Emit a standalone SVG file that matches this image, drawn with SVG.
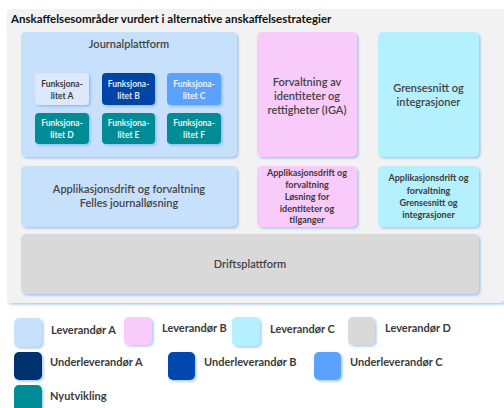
<svg xmlns="http://www.w3.org/2000/svg" width="504" height="408" viewBox="0 0 504 408">
<defs>
<filter id="sh" x="-10%" y="-10%" width="130%" height="130%">
<feDropShadow dx="1.5" dy="1.5" stdDeviation="0.8" flood-color="#5b9cf0" flood-opacity="0.55"/>
</filter>
</defs>
<style>
text{font-family:Lato,"Liberation Sans",sans-serif;fill:#3a3a3a}
.t{font-size:11px;font-weight:600;text-anchor:middle;fill:#444}
.s{font-size:9px;font-weight:bold;text-anchor:middle}
.f{font-size:8.5px;font-weight:bold;text-anchor:middle}
.lg{font-size:11px;font-weight:bold}
.box{filter:url(#sh)}
</style>
<rect width="504" height="408" fill="#ffffff"/>
<g id="panel">
<rect x="7" y="9" width="497" height="294" rx="4" fill="#f2f2f2" filter="url(#sh)"/>
<text x="11" y="23" font-size="11.5" font-weight="bold" style="fill:#111">Anskaffelsesområder vurdert i alternative anskaffelsestrategier</text>
</g>
<g id="journalplattform">
<rect class="box" x="21" y="32" width="216" height="125" rx="5" fill="#c7e0fc"/>
<text class="t" x="129" y="48">Journalplattform</text>
</g>
<g id="funkA"><rect class="box" x="35" y="73" width="54" height="32" rx="4" fill="#dde9fb"/><text class="f" x="62" y="86.5">Funksjona-</text><text class="f" x="62" y="98.5">litet A</text></g>
<g id="funkB"><rect class="box" x="102" y="73" width="53" height="32" rx="4" fill="#0644a6"/><text class="f" x="128.5" y="86.5" style="fill:#dfe8f8">Funksjona-</text><text class="f" x="128.5" y="98.5" style="fill:#dfe8f8">litet B</text></g>
<g id="funkC"><rect class="box" x="167" y="73" width="54" height="32" rx="4" fill="#5aa2fe"/><text class="f" x="194" y="86.5" style="fill:#eef5ff">Funksjona-</text><text class="f" x="194" y="98.5" style="fill:#eef5ff">litet C</text></g>
<g id="funkD"><rect class="box" x="35" y="113" width="54" height="31" rx="4" fill="#008c94"/><text class="f" x="62" y="126" style="fill:#e4f4f4">Funksjona-</text><text class="f" x="62" y="138" style="fill:#e4f4f4">litet D</text></g>
<g id="funkE"><rect class="box" x="102" y="113" width="53" height="31" rx="4" fill="#008c94"/><text class="f" x="128.5" y="126" style="fill:#e4f4f4">Funksjona-</text><text class="f" x="128.5" y="138" style="fill:#e4f4f4">litet E</text></g>
<g id="funkF"><rect class="box" x="167" y="113" width="54" height="31" rx="4" fill="#008c94"/><text class="f" x="194" y="126" style="fill:#e4f4f4">Funksjona-</text><text class="f" x="194" y="138" style="fill:#e4f4f4">litet F</text></g>
<g id="iga">
<rect class="box" x="257" y="32" width="100" height="125" rx="5" fill="#f8cbfb"/>
<text class="t" x="307" y="86">Forvaltning av</text>
<text class="t" x="307" y="100">identiteter og</text>
<text class="t" x="307" y="114">rettigheter (IGA)</text>
</g>
<g id="grensesnitt">
<rect class="box" x="378" y="32" width="101" height="125" rx="5" fill="#b5f0fe"/>
<text class="t" x="428.5" y="92">Grensesnitt og</text>
<text class="t" x="428.5" y="106">integrasjoner</text>
</g>
<g id="appdrift-journal">
<rect class="box" x="21" y="166" width="216" height="61" rx="5" fill="#c7e0fc"/>
<text class="t" x="129" y="193">Applikasjonsdrift og forvaltning</text>
<text class="t" x="129" y="207">Felles journalløsning</text>
</g>
<g id="appdrift-iga">
<rect class="box" x="257" y="166" width="100" height="61" rx="5" fill="#f8cbfb"/>
<text class="s" x="307" y="176">Applikasjonsdrift og</text>
<text class="s" x="307" y="187.5">forvaltning</text>
<text class="s" x="307" y="199.5">Løsning for</text>
<text class="s" x="307" y="211.5">identiteter og</text>
<text class="s" x="307" y="223">tilganger</text>
</g>
<g id="appdrift-grensesnitt">
<rect class="box" x="378" y="166" width="101" height="61" rx="5" fill="#b5f0fe"/>
<text class="s" x="428.5" y="181">Applikasjonsdrift og</text>
<text class="s" x="428.5" y="193.5">forvaltning</text>
<text class="s" x="428.5" y="206">Grensesnitt og</text>
<text class="s" x="428.5" y="218">integrasjoner</text>
</g>
<g id="driftsplattform">
<rect class="box" x="21" y="234" width="458" height="60" rx="5" fill="#d9d9d9"/>
<text class="t" x="250" y="268">Driftsplattform</text>
</g>
<g id="legend">
<rect class="box" x="14" y="318" width="28" height="29" rx="5" fill="#c7e0fc"/><text class="lg" x="51" y="334">Leverandør A</text>
<rect class="box" x="124" y="317" width="28" height="28" rx="5" fill="#f8cbfb"/><text class="lg" x="162" y="332">Leverandør B</text>
<rect class="box" x="232" y="317" width="28" height="29" rx="5" fill="#b5f0fe"/><text class="lg" x="270" y="333">Leverandør C</text>
<rect class="box" x="348" y="317" width="27" height="28" rx="5" fill="#d9d9d9"/><text class="lg" x="385" y="332">Leverandør D</text>
<rect class="box" x="14" y="352" width="28" height="28" rx="5" fill="#00336f"/><text class="lg" x="50" y="366">Underleverandør A</text>
<rect class="box" x="168" y="352" width="27" height="28" rx="5" fill="#0047b0"/><text class="lg" x="204" y="366">Underleverandør B</text>
<rect class="box" x="314" y="352" width="27" height="28" rx="5" fill="#5aa2fe"/><text class="lg" x="350" y="366">Underleverandør C</text>
<rect class="box" x="14" y="385" width="28" height="28" rx="5" fill="#008c94"/><text class="lg" x="50" y="400">Nyutvikling</text>
</g>
</svg>
